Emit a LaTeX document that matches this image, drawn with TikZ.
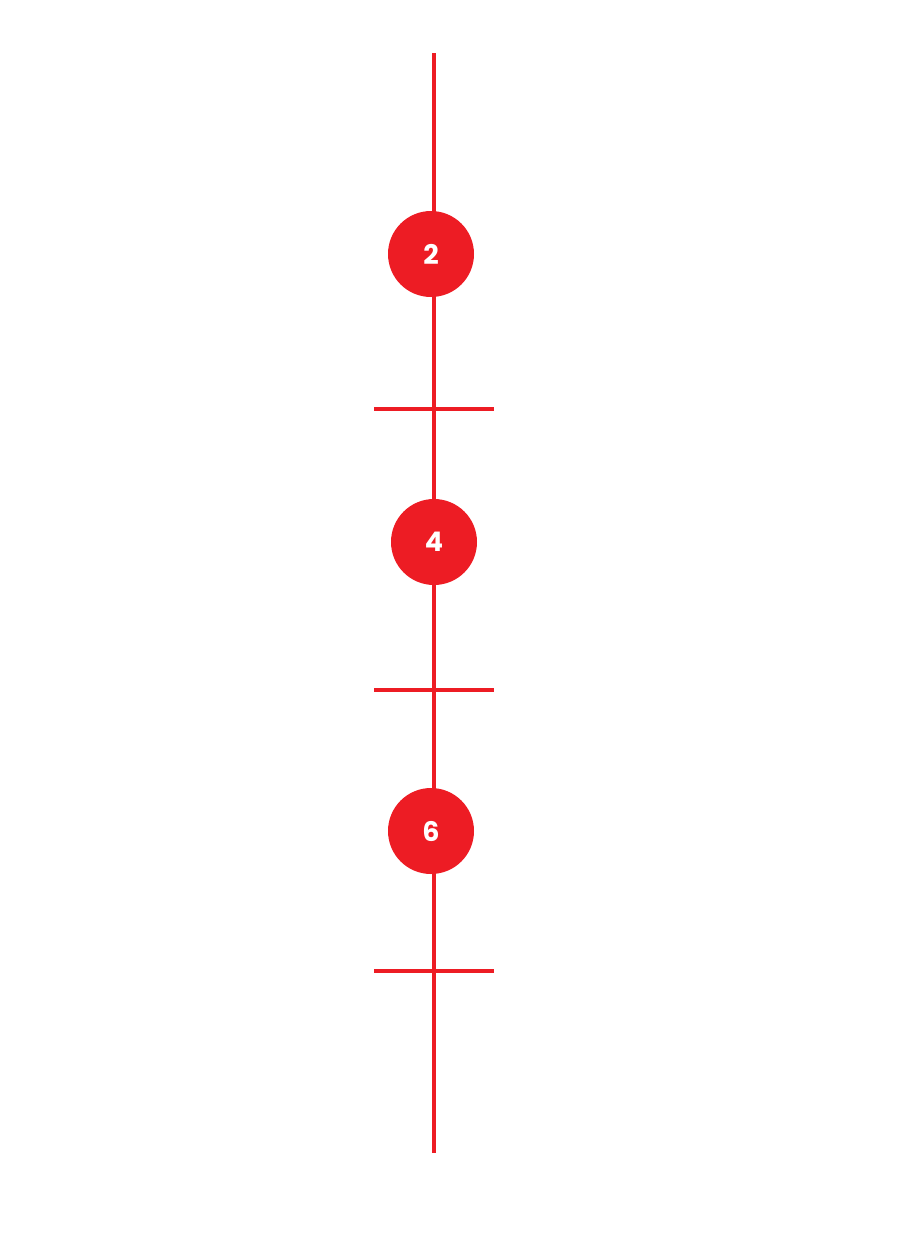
\documentclass[tikz,border=0pt]{standalone}
\usepackage{fontspec}
\setmainfont{Poppins}
\definecolor{tred}{HTML}{ED1C24}
\begin{document}
\begin{tikzpicture}[x=1pt,y=-1pt,
  tline/.style={draw=tred,line width=4pt},
  num/.style={circle,fill=tred,minimum size=86pt,inner sep=0pt,text=white,font=\fontsize{27}{27}\selectfont\bfseries}]
\useasboundingbox (0,0) rectangle (898,1254);
\coordinate (top) at (434,53);
\coordinate (bot) at (434,1153);
\draw[tline] (top) -- (bot);
\foreach \y/\n in {409/a,690/b,971/c}{
  \coordinate (\n l) at (374,\y); \coordinate (\n r) at (494,\y);
  \draw[tline] (\n l) -- (\n r);}
\node[num] (n2) at (431,254) {2};
\node[num] (n4) at (434,542) {4};
\node[num] (n6) at (431,831) {6};
\end{tikzpicture}
\end{document}
